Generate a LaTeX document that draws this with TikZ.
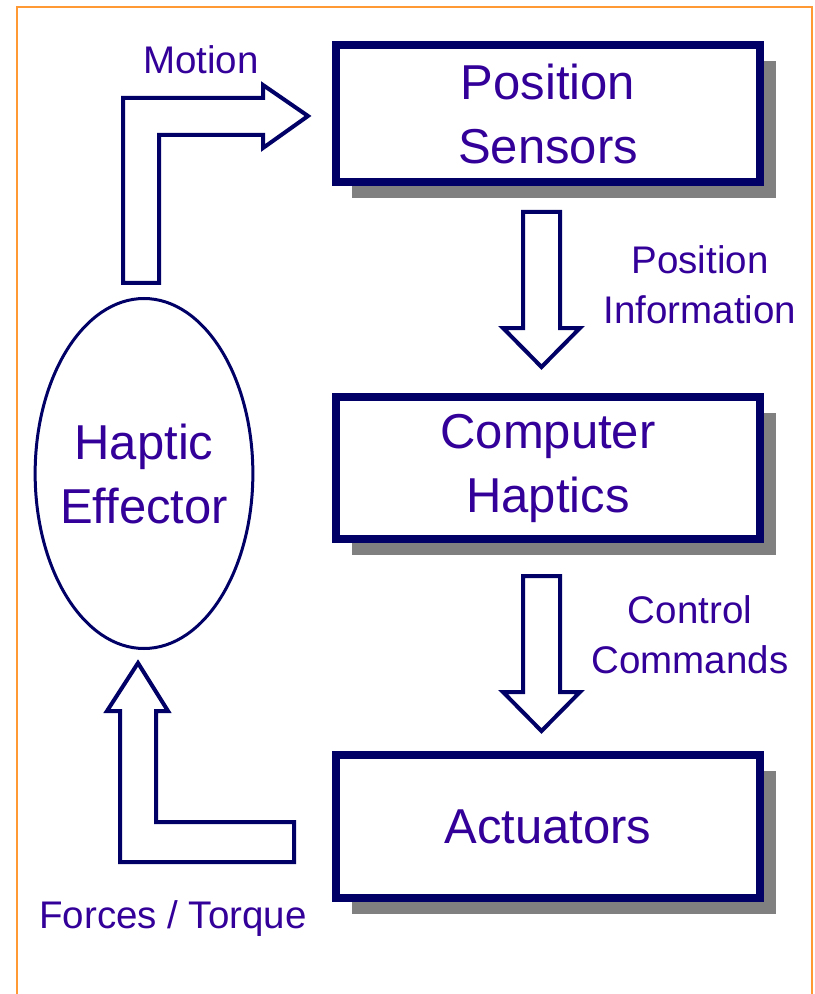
\documentclass[tikz,border=0pt]{standalone}
\usepackage{fontspec}
\setmainfont{Liberation Sans}
\usepackage{xcolor}
\definecolor{hapticpurple}{RGB}{51,0,153}
\definecolor{hapticnavy}{RGB}{0,0,102}
\definecolor{framebar}{RGB}{255,153,51}
\definecolor{shadowgray}{RGB}{128,128,128}
\usepackage{tikz}
\usetikzlibrary{shapes.geometric,shadows}

\begin{document}
\begin{tikzpicture}[
  x=0.5pt, y=-0.5pt,
  stage/.style={
    rectangle, minimum width=212pt, minimum height=#1,
    align=center, draw=hapticnavy, fill=white,
    line width=4pt, text=hapticpurple,
    font=\fontsize{24.5pt}{32pt}\selectfont,
    drop shadow={shadow xshift=8pt, shadow yshift=-8pt, fill=shadowgray, opacity=1}
  },
  effector/.style={
    ellipse, minimum width=107pt, minimum height=175pt,
    align=center, draw=hapticnavy, fill=white,
    line width=1.5pt, text=hapticpurple, inner xsep=-3.5pt, inner ysep=0pt,
    font=\fontsize{24.5pt}{32pt}\selectfont
  },
  flowlabel/.style={
    align=center, text=hapticpurple, inner sep=0pt,
    font=\fontsize{19.25pt}{25pt}\selectfont
  },
  blockarrow/.style={draw=hapticnavy, fill=white, line width=2pt, line join=miter}
]
\useasboundingbox (0,0) rectangle (814,994);
\draw[framebar, line width=1pt] (17,994) -- (17,7) -- (812,7) -- (812,994);

\node[stage=68.5pt] (sensors) at (548,113.5) {Position\\Sensors};
\node[stage=71pt] (computer) at (548,468) {Computer\\Haptics};
\node[stage=71.5pt] (actuators) at (548,826.5) {Actuators};
\node[effector] (hand) at (144,473.5) {Haptic\\Effector};

\coordinate (posflow) at (541.5,212);
\coordinate (ctrlflow) at (541.5,576);
\coordinate (motionfoot) at (141,283);
\coordinate (forcetail) at (294,862);

\foreach \c in {posflow,ctrlflow} {
  \draw[blockarrow] (\c) -- ++(18.5,0) -- ++(0,116) -- ++(20,0) -- ++(-38.5,39)
    -- ++(-38.5,-39) -- ++(20,0) -- ++(0,-116) -- cycle;
}
\draw[blockarrow] (motionfoot) -- ++(-18,0) -- ++(0,-185) -- ++(140,0) -- ++(0,-13)
  -- ++(45,31) -- ++(-45,32) -- ++(0,-13) -- ++(-104,0) -- ++(0,148) -- cycle;
\draw[blockarrow] (forcetail) -- ++(0,-40) -- ++(-138,0) -- ++(0,-111) -- ++(12,0)
  -- ++(-30,-48) -- ++(-31,48) -- ++(13,0) -- ++(0,151) -- cycle;

\node[flowlabel] (motion) at (201,60) {Motion};
\node[flowlabel] (posinfo) at (700,285) {Position\\Information};
\node[flowlabel] (ctrlcmd) at (690,635) {Control\\Commands};
\node[flowlabel, anchor=base] (forces) at (173,928) {Forces / Torque};
\end{tikzpicture}
\end{document}
